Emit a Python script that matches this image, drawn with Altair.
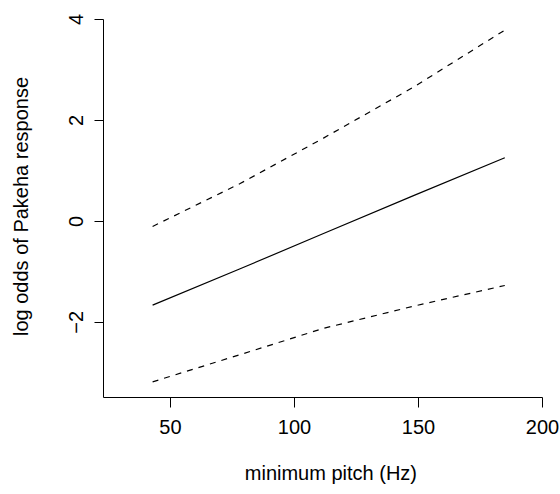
import altair as alt
import pandas as pd

# values
pitch = [43.0, 78.3, 111.9, 148.2, 185.0]
fit = [-1.67, -0.95, -0.25, 0.50, 1.25]
upper = [-0.11, 0.74, 1.64, 2.65, 3.78]
lower = [-3.19, -2.65, -2.13, -1.69, -1.28]

x_ticks = [50, 100, 150, 200]
y_ticks = [-2, 0, 2, 4]

rows = []
for name, vals in [("fit", fit), ("upper", upper), ("lower", lower)]:
    for x, y in zip(pitch, vals):
        rows.append({"pitch": x, "logodds": y, "series": name})
df = pd.DataFrame(rows)

FONT = "Liberation Sans"

x_enc = alt.X(
    "pitch:Q",
    scale=alt.Scale(domain=[23, 200], nice=False, zero=False),
    axis=alt.Axis(
        values=x_ticks, title="minimum pitch (Hz)", grid=False,
        domainColor="black", tickColor="black", tickSize=10, labelPadding=10,
        labelColor="black", labelFont=FONT, labelFontSize=20,
        titleFont=FONT, titleFontSize=20, titleFontWeight="normal", titleColor="black",
        titleX=227.4, titleY=82.5, titleBaseline="alphabetic", titleAnchor="start",
        titleAlign="center", labelFlush=False, labelOverlap=False,
    ),
)
y_enc = alt.Y(
    "logodds:Q",
    scale=alt.Scale(domain=[-3.49, 4], nice=False, zero=False),
    axis=alt.Axis(
        values=y_ticks, title="log odds of Pakeha response", grid=False,
        domainColor="black", tickColor="black", tickSize=9, labelPadding=8,
        labelColor="black", labelFont=FONT, labelFontSize=20,
        labelAngle=270, labelAlign="center", labelBaseline="bottom",
        labelExpr="replace(datum.label, '-', '\u2212')",
        labelFlush=False, labelOverlap=False,
        titleFont=FONT, titleFontSize=20, titleFontWeight="normal", titleColor="black",
        titleAngle=270, titleX=-75.7, titleY=187, titleBaseline="alphabetic",
        titleAlign="center",
    ),
)

solid = alt.Chart(df).transform_filter(alt.datum.series == "fit").mark_line(
    color="black", strokeWidth=1.2
).encode(x=x_enc, y=y_enc)

dashed = alt.Chart(df).transform_filter(alt.datum.series != "fit").mark_line(
    color="black", strokeWidth=1.2, strokeDash=[6, 6]
).encode(x=x_enc, y=y_enc, detail="series:N")

chart = alt.layer(solid, dashed).properties(
    width=439, height=378,
    autosize=alt.AutoSizeParams(type="none"),
    padding={"left": 103, "top": 19, "right": 18, "bottom": 97},
    background="white",
).configure_view(stroke=None)

chart.save("out.html", embed_options={"renderer": "svg", "actions": False})
